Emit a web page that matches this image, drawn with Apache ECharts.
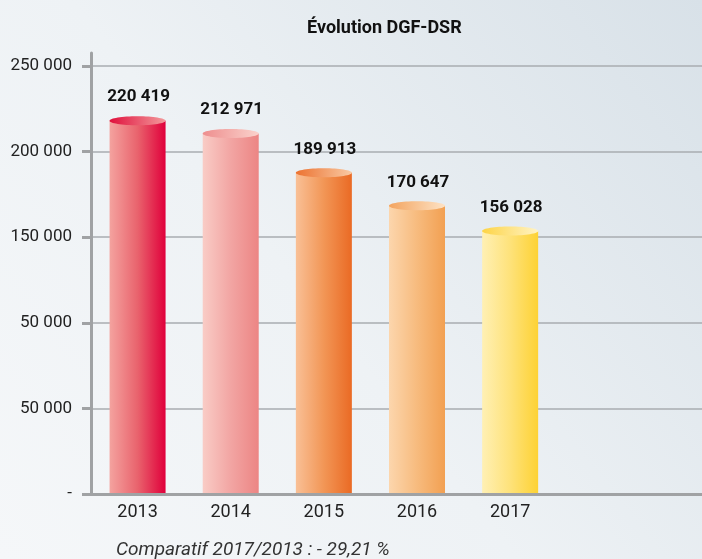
<!DOCTYPE html>
<html><head><meta charset="utf-8">
<script src="https://cdn.jsdelivr.net/npm/echarts@6/dist/echarts.min.js"></script>
<style>html,body{margin:0;padding:0;}#c{width:702px;height:559px;}</style>
</head><body><div id="c"></div>
<script>
const categories = ['2013', '2014', '2015', '2016', '2017', '', ''];
const values = [220419, 212971, 189913, 170647, 156028];
const valueLabels = ['220 419', '212 971', '189 913', '170 647', '156 028'];
const yTickLabels = ['-', '50 000', '50 000', '150 000', '200 000', '250 000'];
const titleText = 'Évolution DGF-DSR';
const noteText = 'Comparatif 2017/2013 : - 29,21 %';

const bodyColors = [
  ['#f4a39f', '#e9636d', '#e0003b'],
  ['#f9ccc6', '#f2a5a3', '#ec8584'],
  ['#f9c096', '#f29656', '#ea6a24'],
  ['#fcd6ad', '#f7bb7e', '#f2a052'],
  ['#fff0b4', '#fee27a', '#fdd234']
];
const capColors = [
  ['#e0103c', '#f39a9c'],
  ['#ee8e8e', '#fad2cc'],
  ['#ec7230', '#f9caa4'],
  ['#f3a460', '#fde2c4'],
  ['#fdd445', '#fff3c6']
];

const FONT = 'Roboto';
const chart = echarts.init(document.getElementById('c'));
const BW = 56;

function grad(stops) {
  const n = stops.length;
  return new echarts.graphic.LinearGradient(0, 0, 1, 0,
    stops.map((c, i) => ({ offset: i / (n - 1), color: c })));
}

chart.setOption({
  backgroundColor: new echarts.graphic.LinearGradient(0, 1, 1, 0, [
    { offset: 0, color: '#f5f7f9' },
    { offset: 0.45, color: '#eef2f5' },
    { offset: 1, color: '#d8e1e8' }
  ]),
  animation: false,
  title: [
    { text: titleText, left: 302, top: 14,
      textStyle: { fontFamily: FONT, fontWeight: 'bold', fontSize: 18, color: '#111' } },
    { text: noteText, left: 111, top: 536,
      textStyle: { fontFamily: FONT, fontStyle: 'italic', fontWeight: 'normal', fontSize: 19, color: '#333' } }
  ],
  grid: [
    { left: 91, right: -41, top: 66, bottom: 65, containLabel: false, outerBoundsMode: 'none' },
    { left: 91, right: -41, top: 53, bottom: 65, containLabel: false, outerBoundsMode: 'none' }
  ],
  xAxis: [
    { type: 'category', gridIndex: 0, data: categories,
      axisLine: { show: true, lineStyle: { color: '#a0a2a4', width: 3 } },
      axisTick: { show: false },
      axisLabel: { fontFamily: FONT, fontSize: 18, color: '#222', margin: 9 },
      splitLine: { show: false } },
    { type: 'category', gridIndex: 1, data: categories, show: false }
  ],
  yAxis: [
    { type: 'value', gridIndex: 0, min: 0, max: 250000, interval: 50000,
      axisLine: { show: true, lineStyle: { color: '#a0a2a4', width: 3 } },
      axisTick: { show: true, length: 9, lineStyle: { color: '#a0a2a4', width: 3 } },
      axisLabel: { fontFamily: FONT, fontSize: 17, color: '#222', margin: 19,
        formatter: v => yTickLabels[Math.round(v / 50000)] },
      splitLine: { show: true, lineStyle: { color: '#a9adb1', width: 1.5 } } },
    { type: 'value', gridIndex: 1, min: 0, max: 1,
      axisLine: { show: true, lineStyle: { color: '#a0a2a4', width: 3 } },
      axisTick: { show: false }, axisLabel: { show: false }, splitLine: { show: false } }
  ],
  series: [{
    type: 'custom',
    xAxisIndex: 0, yAxisIndex: 0,
    data: values.map((v, i) => [i, v]),
    renderItem: function (params, api) {
      const i = api.value(0);
      const top = api.coord([i, api.value(1)]);
      const base = api.coord([i, 0]);
      const cx = top[0];
      const capY = top[1] + 4;
      return {
        type: 'group',
        children: [
          { type: 'rect', shape: { x: cx - BW / 2, y: capY, width: BW, height: base[1] - capY - 1 },
            style: { fill: grad(bodyColors[i]) } },
          { type: 'ellipse', shape: { cx: cx, cy: capY, rx: BW / 2, ry: 4.5 },
            style: { fill: grad(capColors[i]) } },
          { type: 'text', style: { text: valueLabels[i], x: cx + 1, y: top[1] - 11,
              align: 'center', verticalAlign: 'bottom',
              font: 'bold 17px ' + FONT, fill: '#111' } }
        ]
      };
    }
  }]
});
</script></body></html>
